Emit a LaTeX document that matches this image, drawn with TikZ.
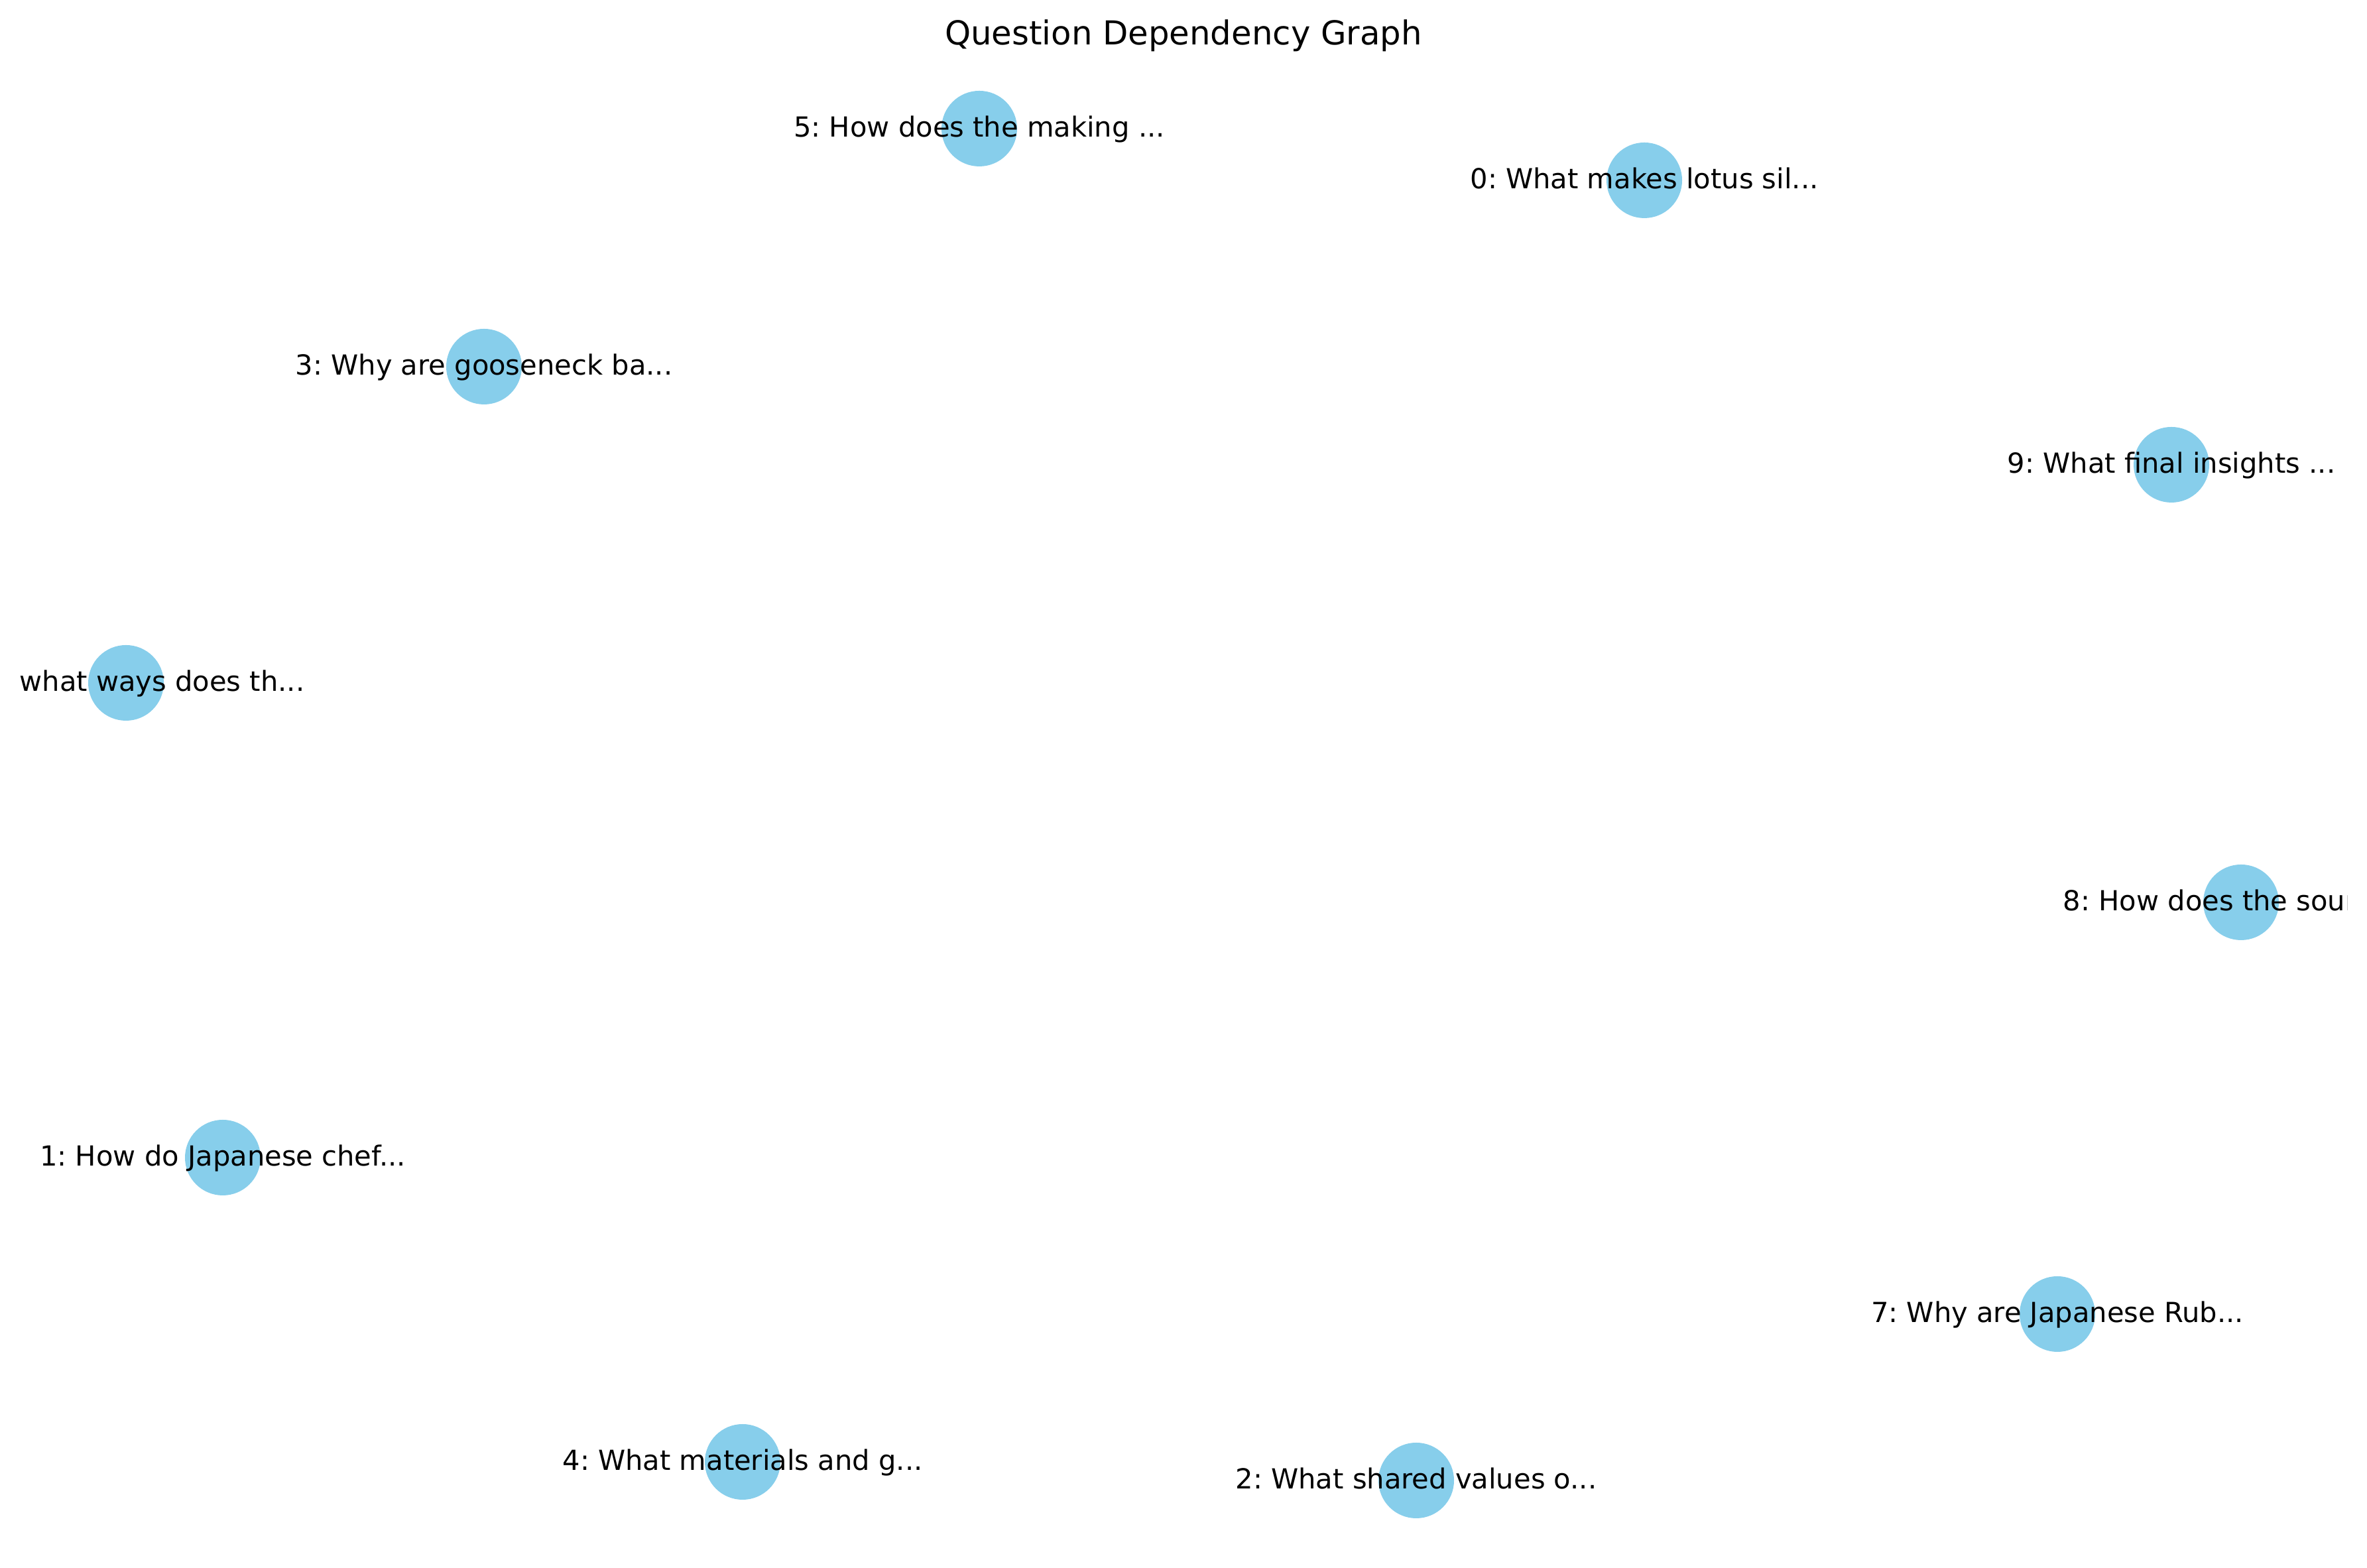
\documentclass[tikz,border=0pt]{standalone}
\usepackage{fontspec}
\setmainfont{DejaVu Sans}
\frenchspacing
\definecolor{nodeblue}{HTML}{87CEEB}
\tikzset{
  qnode/.style={circle, fill=nodeblue, draw=none, minimum size=1.14cm, inner sep=0pt},
  qlabel/.style={anchor=base, inner sep=0pt, font=\fontsize{11.85pt}{14pt}\selectfont, text=black},
  qtitle/.style={anchor=base, inner sep=0pt, font=\fontsize{14.15pt}{17pt}\selectfont, text=black}
}
\begin{document}
\begin{tikzpicture}
\useasboundingbox (0,0) rectangle (35.70,23.65);
\fill[white] (0,0) rectangle (35.70,23.65);
\node[qtitle] (title) at (17.85,22.97) {Question Dependency Graph};
% nodes (px -> cm: x/100, (2365-y)/100)
\node[qnode] (n0) at (24.80,20.93) {};
\node[qnode] (n1) at (3.36,6.19) {};
\node[qnode] (n2) at (21.36,1.32) {};
\node[qnode] (n3) at (7.30,18.12) {};
\node[qnode] (n4) at (11.20,1.60) {};
\node[qnode] (n5) at (14.77,21.71) {};
\node[qnode] (n6) at (1.90,13.35) {};
\node[qnode] (n7) at (31.03,3.83) {};
\node[qnode] (n8) at (33.80,10.04) {};
\node[qnode] (n9) at (32.75,16.64) {};
% labels (clipped to the plotting area as in the reference)
\begin{scope}
\clip (0.28,0) rectangle (35.40,23.65);
\node[qlabel] (l0) at ([yshift=-0.13cm]n0.center) {0: What makes lotus sil...};
\node[qlabel] (l1) at ([yshift=-0.13cm]n1.center) {1: How do Japanese chef...};
\node[qlabel] (l2) at ([yshift=-0.13cm]n2.center) {2: What shared values o...};
\node[qlabel] (l3) at ([yshift=-0.13cm]n3.center) {3: Why are gooseneck ba...};
\node[qlabel] (l4) at ([yshift=-0.13cm]n4.center) {4: What materials and g...};
\node[qlabel] (l5) at ([yshift=-0.13cm]n5.center) {5: How does the making ...};
\node[qlabel, anchor=base east] (l6) at ([yshift=-0.13cm]4.60,13.35) {6: In what ways does th...};
\node[qlabel] (l7) at ([yshift=-0.13cm]n7.center) {7: Why are Japanese Rub...};
\node[qlabel, anchor=base west] (l8) at ([yshift=-0.13cm]31.11,10.04) {8: How does the sour};
\node[qlabel] (l9) at ([yshift=-0.13cm]n9.center) {9: What final insights ...};
\end{scope}
\end{tikzpicture}
\end{document}
